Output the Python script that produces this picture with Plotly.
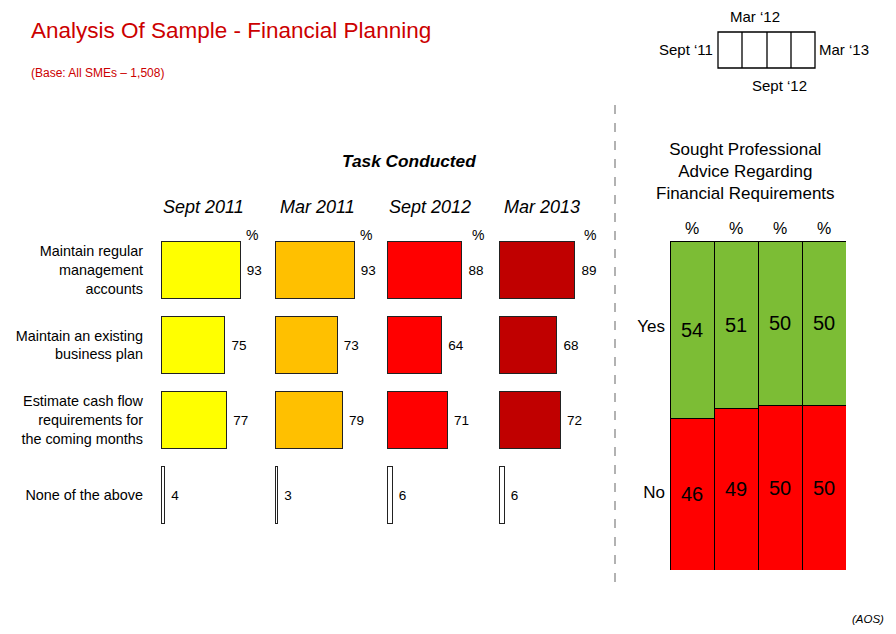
import plotly.graph_objects as go

# ---------------- data ----------------
tasks = ["Maintain regular<br>management<br>accounts",
         "Maintain an existing<br>business plan",
         "Estimate cash flow<br>requirements for<br>the coming months",
         "None of the above"]
waves = ["Sept 2011", "Mar 2011", "Sept 2012", "Mar 2013"]
sept_2011 = [93, 75, 77, 4]
mar_2011 = [93, 73, 79, 3]
sept_2012 = [88, 64, 71, 6]
mar_2013 = [89, 68, 72, 6]
wave_values = [sept_2011, mar_2011, sept_2012, mar_2013]
wave_colors = ["#FFFF00", "#FFC000", "#FF0000", "#C00000"]

advice_waves = ["Sept '11", "Mar '12", "Sept '12", "Mar '13"]
advice_yes = [54, 51, 50, 50]
advice_no = [46, 49, 50, 50]
advice_labels = ["Yes", "No"]

# page is 896x634; the browser body has an 8px margin, so the figure is offset
OFF = 8
W, H = 880, 618
FONT = "Liberation Sans, Arial, sans-serif"


def px(x):
    return (x - OFF) / W


def py(y):
    return 1 - (y - OFF) / H


fig = go.Figure()

# ---------------- left: four bar panels ----------------
panel_starts = [161, 275, 387, 499]
panel_w = 110
scale = 0.85  # px per percentage point
ypos = list(range(len(tasks)))

for i, (vals, col) in enumerate(zip(wave_values, wave_colors)):
    xa = "x" if i == 0 else f"x{i+1}"
    colors = [col] * (len(vals) - 1) + ["#FFFFFF"]
    fig.add_trace(go.Bar(
        x=vals, y=ypos, orientation="h", width=0.77,
        marker=dict(color=colors, line=dict(color="#222222", width=1.1)),
        text=["\u00a0" + str(v) for v in vals], textposition="outside",
        textfont=dict(size=13.5, color="#000000", family=FONT),
        constraintext="none", cliponaxis=False,
        xaxis=xa, yaxis="y", showlegend=False, hoverinfo="x+y",
    ))
    key = "xaxis" if i == 0 else f"xaxis{i+1}"
    fig.layout[key] = dict(
        domain=[px(panel_starts[i]), px(panel_starts[i] + panel_w)],
        range=[0, panel_w / scale], visible=False, anchor="y", fixedrange=True)
    # column header and % sign
    fig.add_annotation(x=50, y=py(207), xref=xa, yref="paper", text=f"<i>{waves[i]}</i>",
                       showarrow=False, font=dict(size=18, family=FONT, color="#000"),
                       xanchor="center", yanchor="middle")
    fig.add_annotation(x=107, y=py(235), xref=xa, yref="paper", text="%",
                       showarrow=False, font=dict(size=14, family=FONT, color="#000"),
                       xanchor="center", yanchor="middle")

fig.update_layout(yaxis=dict(
    domain=[py(532.5), py(232.5)], range=[3.5, -0.5], anchor="x",
    tickvals=ypos, ticktext=tasks, showgrid=False, zeroline=False, showline=False,
    ticks="", ticklabelstandoff=17, tickfont=dict(size=14.4, family=FONT, color="#000"),
    fixedrange=True))

# ---------------- right: stacked advice chart ----------------
fig.add_trace(go.Bar(
    x=advice_waves, y=advice_no, width=1, name="No",
    marker=dict(color="#FF0000", line=dict(color="#000000", width=1)),
    text=advice_no, textposition="inside", insidetextanchor="middle",
    textfont=dict(size=20, color="#000", family=FONT), constraintext="none",
    xaxis="x5", yaxis="y5", showlegend=False))
fig.add_trace(go.Bar(
    x=advice_waves, y=advice_yes, width=1, name="Yes",
    marker=dict(color="#7CBD35", line=dict(color="#000000", width=1)),
    text=advice_yes, textposition="inside", insidetextanchor="middle",
    textfont=dict(size=20, color="#000", family=FONT), constraintext="none",
    xaxis="x5", yaxis="y5", showlegend=False))

fig.update_layout(
    barmode="stack",
    xaxis5=dict(domain=[px(670), px(846)], range=[-0.5, 3.5], anchor="y5", side="top",
                tickvals=advice_waves, ticktext=["%"] * 4, ticks="", showline=False,
                showgrid=False, ticklabelstandoff=3,
                tickfont=dict(size=16, family=FONT, color="#000"), fixedrange=True),
    yaxis5=dict(domain=[py(570), py(241)], range=[0, 100], anchor="x5",
                tickvals=[74.2, 23.7], ticktext=advice_labels, ticks="", showgrid=False,
                zeroline=False, showline=False, ticklabelstandoff=4,
                tickfont=dict(size=17, family=FONT, color="#000"), fixedrange=True),
)

# ---------------- text & decorations ----------------
red = "#CC0000"
ann = [
    dict(x=px(29), y=py(30), text="Analysis Of Sample - Financial Planning",
         font=dict(size=22.5, color=red), xanchor="left"),
    dict(x=px(29), y=py(73), text="(Base: All SMEs \u2013 1,508)",
         font=dict(size=12, color=red), xanchor="left"),
    dict(x=px(409), y=py(161), text="<b><i>Task Conducted</i></b>",
         font=dict(size=17.3, color="#000"), xanchor="center"),
    dict(x=px(745), y=py(172),
         text="Sought Professional<br>Advice Regarding<br>Financial Requirements",
         font=dict(size=17, color="#000"), xanchor="center"),
    dict(x=px(755), y=py(17), text="Mar \u201812", font=dict(size=15, color="#000"), xanchor="center"),
    dict(x=px(715), y=py(50), text="Sept \u201811", font=dict(size=15, color="#000"), xanchor="right"),
    dict(x=px(817), y=py(50), text="Mar \u201813", font=dict(size=15, color="#000"), xanchor="left"),
    dict(x=px(779), y=py(86), text="Sept \u201812", font=dict(size=15, color="#000"), xanchor="center"),
    dict(x=px(886), y=py(619), text="<i>(AOS)</i>", font=dict(size=11.5, color="#000"), xanchor="right"),
]
for a in ann:
    a["font"]["family"] = FONT
    fig.add_annotation(xref="paper", yref="paper", showarrow=False, yanchor="middle", **a)

shapes = [
    dict(type="rect", x0=px(718), x1=px(815), y0=py(32), y1=py(68),
         line=dict(color="#000", width=1.3)),
    dict(type="line", x0=px(615), x1=px(615), y0=py(105), y1=py(590),
         line=dict(color="#999999", width=1.5, dash="dash")),
]
for xl in [742, 767, 791]:
    shapes.append(dict(type="line", x0=px(xl), x1=px(xl), y0=py(32), y1=py(68),
                       line=dict(color="#000", width=1.3)))
for s in shapes:
    s.update(xref="paper", yref="paper")
    fig.add_shape(**s)

fig.update_layout(
    width=W, height=H, margin=dict(l=0, r=0, t=0, b=0),
    paper_bgcolor="#FFFFFF", plot_bgcolor="rgba(0,0,0,0)",
    font=dict(family=FONT, color="#000"), showlegend=False,
)

fig.write_html("out.html", config={"displayModeBar": False})
